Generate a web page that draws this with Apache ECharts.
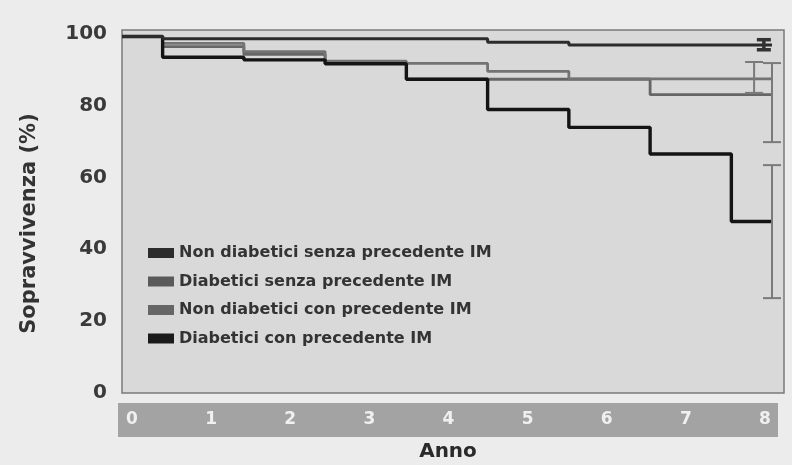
<!DOCTYPE html>
<html>
<head>
<meta charset="utf-8">
<script src="https://cdn.jsdelivr.net/npm/echarts@6/dist/echarts.min.js"></script>
<style>
html,body{margin:0;padding:0;background:#ececec;}
#c{width:792px;height:465px;}
</style>
</head>
<body>
<div id="c"></div>
<script>
// Anni (tempi dei gradini)
const times = [0, 0.5, 1.5, 2.5, 3.5, 4.5, 5.5, 6.5, 7.5, 8];
const xTickLabels = [0, 1, 2, 3, 4, 5, 6, 7, 8];
const yTickLabels = [0, 20, 40, 60, 80, 100];

const seriesNames = [
  'Non diabetici senza precedente IM',
  'Diabetici senza precedente IM',
  'Non diabetici con precedente IM',
  'Diabetici con precedente IM'
];
const nonDiabSenza = [99.2, 98.6, 98.6, 98.6, 98.6, 97.6, 96.8, 96.8, 96.8, 96.8];
const diabSenza    = [99.2, 96.4, 94.2, 92.0, 87.3, 87.3, 87.3, 83.0, 83.0, 83.0];
const nonDiabCon   = [99.2, 97.3, 95.0, 92.3, 91.7, 89.5, 87.4, 87.4, 87.4, 87.4];
const diabCon      = [99.2, 93.4, 92.7, 91.6, 87.3, 78.9, 73.9, 66.5, 47.7, 47.7];

// Barre di errore a 8 anni
const errX    = [7.9, 8.0, 7.78, 8.0];
const errLow  = [95.5, 69.8, 83.5, 26.4];
const errHigh = [98.3, 91.8, 92.1, 63.4];

const colors = ['#2c2c2c', '#666666', '#737373', '#141414'];
const legendColors = ['#2c2c2c', '#5a5a5a', '#666666', '#1a1a1a'];
const widths = [3, 2.8, 2.8, 3.4];
const errColors = ['#333333', '#7a7a7a', '#7a7a7a', '#7a7a7a'];
const errWidths = [3.5, 2, 2, 2];

const allValues = [nonDiabSenza, diabSenza, nonDiabCon, diabCon];
const FONT = 'DejaVu Sans';

const lineSeries = seriesNames.map((name, i) => ({
  name: name,
  type: 'line',
  step: 'end',
  xAxisIndex: 0,
  yAxisIndex: 0,
  symbol: 'none',
  color: legendColors[i],
  lineStyle: { color: colors[i], width: widths[i] },
  data: times.map((t, k) => [t, allValues[i][k]]),
  z: i === 0 ? 5 : (i === 3 ? 4 : 3),
  animation: false
}));

const errSeries = {
  type: 'custom',
  xAxisIndex: 0,
  yAxisIndex: 0,
  clip: false,
  z: 6,
  data: errX.map((x, i) => [x, errLow[i], errHigh[i], i]),
  renderItem: function (params, api) {
    const x = api.value(0);
    const lo = api.coord([x, api.value(1)]);
    const hi = api.coord([x, api.value(2)]);
    const idx = api.value(3);
    const hw = idx === 0 ? 7 : 9;
    const st = { stroke: errColors[idx], lineWidth: errWidths[idx] };
    return {
      type: 'group',
      children: [
        { type: 'line', shape: { x1: lo[0], y1: lo[1], x2: hi[0], y2: hi[1] }, style: st },
        { type: 'line', shape: { x1: lo[0] - hw, y1: lo[1], x2: lo[0] + hw, y2: lo[1] }, style: st },
        { type: 'line', shape: { x1: hi[0] - hw, y1: hi[1], x2: hi[0] + hw, y2: hi[1] }, style: st }
      ]
    };
  },
  animation: false
};

const chart = echarts.init(document.getElementById('c'));
chart.setOption({
  backgroundColor: '#ececec',
  animation: false,
  textStyle: { fontFamily: FONT },
  legend: {
    data: seriesNames,
    orient: 'vertical',
    left: 143,
    top: 240,
    icon: 'rect',
    itemWidth: 26,
    itemHeight: 10,
    itemGap: 12.5,
    textStyle: { fontFamily: FONT, fontWeight: 'bold', fontSize: 16, color: '#333' }
  },
  grid: [
    { left: 122, right: 8, top: 30, bottom: 72, show: true,
      backgroundColor: '#d9d9d9', borderColor: '#7a7a7a', borderWidth: 1.5 },
    { left: 118, right: 14, top: 403, height: 34, show: true,
      backgroundColor: '#a3a3a3', borderWidth: 0 }
  ],
  xAxis: [
    { type: 'value', gridIndex: 0, min: 0, max: 8.148,
      axisLine: { show: false }, axisTick: { show: false },
      axisLabel: { show: false }, splitLine: { show: false } },
    { type: 'value', gridIndex: 1, min: -0.177, max: 8.164,
      position: 'bottom',
      name: 'Anno', nameLocation: 'middle', nameGap: 5,
      nameTextStyle: { fontFamily: FONT, fontWeight: 'bold', fontSize: 20, color: '#2a2a2a', verticalAlign: 'top' },
      axisLine: { show: false }, axisTick: { show: false }, splitLine: { show: false },
      axisLabel: { inside: true, margin: 9, customValues: xTickLabels,
        fontFamily: FONT, fontWeight: 'bold', fontSize: 17, color: '#f0f0f0' } }
  ],
  yAxis: [
    { type: 'value', gridIndex: 0, min: 0, max: 101,
      name: 'Sopravvivenza (%)', nameLocation: 'middle', nameGap: 82,
      nameTextStyle: { fontFamily: FONT, fontWeight: 'bold', fontSize: 21, color: '#333', padding: [0, 24, 0, 0] },
      axisLine: { show: false }, axisTick: { show: false }, splitLine: { show: false },
      axisLabel: { customValues: yTickLabels, margin: 15,
        fontFamily: FONT, fontWeight: 'bold', fontSize: 20, color: '#3a3a3a' } },
    { type: 'value', gridIndex: 1, show: false, min: 0, max: 1 }
  ],
  series: lineSeries.concat([errSeries])
});
</script>
</body>
</html>
